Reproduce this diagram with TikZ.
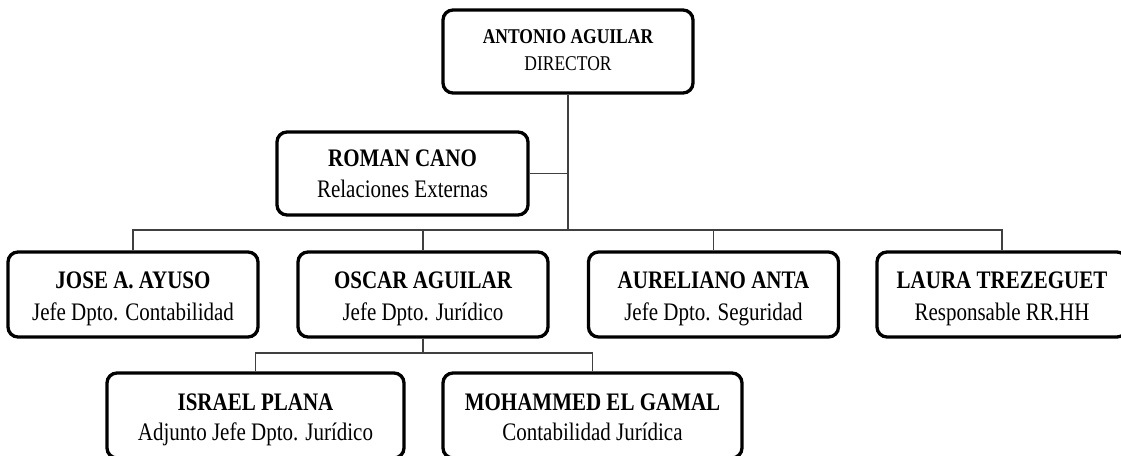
\documentclass[tikz,border=0pt]{standalone}
\usepackage{fontspec}
\setmainfont{Liberation Serif}
\usepackage{graphicx}
\newcommand{\vstretch}[1]{\scalebox{1}[1.2]{#1}}
\begin{document}
\begin{tikzpicture}[x=1pt,y=-1pt,
  box/.style={draw=black, line width=3.3pt, rounded corners=10pt, fill=white, inner sep=0pt},
  rowbox/.style={box, minimum width=250pt, minimum height=85pt},
  wide/.style={box, minimum width=298pt, minimum height=85pt},
  wire/.style={draw=black!75, line width=1.2pt},
  nm/.style={anchor=base, inner sep=0pt, font=\fontsize{21}{21}\selectfont\bfseries},
  sub/.style={anchor=base, inner sep=0pt, font=\fontsize{21}{21}\selectfont},
  nmsmall/.style={anchor=base, inner sep=0pt, font=\fontsize{17.5}{17.5}\selectfont\bfseries},
  subsmall/.style={anchor=base, inner sep=0pt, font=\fontsize{17.5}{17.5}\selectfont},
]
\useasboundingbox (0,0) rectangle (1121,455);
\fill[white] (0,0) rectangle (1121,455);

% boxes
\node[box, minimum width=250pt, minimum height=83pt] (dir) at (568,51.5) {};
\node[box, minimum width=251pt, minimum height=83pt] (roman) at (402.5,173.5) {};
\node[rowbox] (jose) at (133,294.5) {};
\node[rowbox] (oscar) at (423,294.5) {};
\node[rowbox] (aur) at (713.5,294.5) {};
\node[rowbox] (laura) at (1002,294.5) {};
\node[wide, minimum width=297pt] (israel) at (255.5,415.5) {};
\node[wide, minimum width=299pt] (moh) at (592.5,415.5) {};

% texts
\node[nmsmall] (dirn) at ([yshift=-35pt]dir.north) {\vstretch{ANTONIO AGUILAR}};
\node[subsmall] (dirs) at ([yshift=-62pt]dir.north) {\vstretch{DIRECTOR}};
\node[nm] (romann) at ([yshift=-36pt]roman.north) {\vstretch{ROMAN CANO}};
\node[sub] (romans) at ([yshift=-67pt]roman.north) {\vstretch{Relaciones Externas}};
\node[nm] (josen) at ([yshift=-38pt]jose.north) {\vstretch{JOSE A. AYUSO}};
\node[sub] (joses) at ([yshift=-70pt]jose.north) {\vstretch{Jefe Dpto. Contabilidad}};
\node[nm] (oscarn) at ([yshift=-38pt]oscar.north) {\vstretch{OSCAR AGUILAR}};
\node[sub] (oscars) at ([yshift=-70pt]oscar.north) {\vstretch{Jefe Dpto. Jurídico}};
\node[nm] (aurn) at ([yshift=-38pt]aur.north) {\vstretch{AURELIANO ANTA}};
\node[sub] (aurs) at ([yshift=-70pt]aur.north) {\vstretch{Jefe Dpto. Seguridad}};
\node[nm] (lauran) at ([yshift=-38pt]laura.north) {\vstretch{LAURA TREZEGUET}};
\node[sub] (lauras) at ([yshift=-70pt]laura.north) {\vstretch{Responsable RR.HH}};
\node[nm] (israeln) at ([yshift=-39pt]israel.north) {\vstretch{ISRAEL PLANA}};
\node[sub] (israels) at ([yshift=-69pt]israel.north) {\vstretch{Adjunto Jefe Dpto. Jurídico}};
\node[nm] (mohn) at ([yshift=-39pt]moh.north) {\vstretch{MOHAMMED EL GAMAL}};
\node[sub] (mohs) at ([yshift=-69pt]moh.north) {\vstretch{Contabilidad Jurídica}};

% connectors
\coordinate (bus) at (0,230);
\coordinate (subbus) at (0,353);
\draw[wire] (dir.south) -- (dir.south |- bus);
\draw[wire] (roman.east) -- (roman.east -| dir.south);
\draw[wire] (jose.north) -- (jose.north |- bus) -- (laura.north |- bus) -- (laura.north);
\draw[wire] (oscar.north) -- (oscar.north |- bus);
\draw[wire] (aur.north) -- (aur.north |- bus);
\draw[wire] (oscar.south) -- (oscar.south |- subbus);
\draw[wire] (israel.north) -- (israel.north |- subbus) -- (moh.north |- subbus) -- (moh.north);
\end{tikzpicture}
\end{document}
